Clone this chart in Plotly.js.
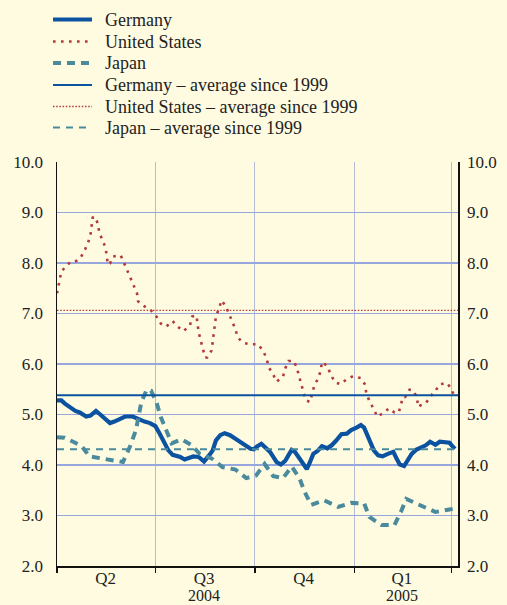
<!DOCTYPE html>
<html>
<head>
<meta charset="utf-8">
<script src="https://cdn.plot.ly/plotly-3.0.1.min.js"></script>
<style>
  html, body { margin: 0; padding: 0; background: #fffbe1; }
  #chart { width: 507px; height: 605px; }
</style>
</head>
<body>
<div id="chart"></div>
<script>
// ---- Data ----
const usDates = ['2004-04-01','2004-04-03','2004-04-05','2004-04-10','2004-04-14','2004-04-19','2004-04-23','2004-04-27','2004-04-30','2004-05-02','2004-05-03','2004-05-04','2004-05-06','2004-05-09','2004-05-10','2004-05-13','2004-05-16','2004-05-17','2004-05-18','2004-05-20','2004-05-23','2004-05-30','2004-06-02','2004-06-05','2004-06-08','2004-06-11','2004-06-14','2004-06-15','2004-06-21','2004-06-27','2004-07-02','2004-07-06','2004-07-11','2004-07-17','2004-07-21','2004-07-27','2004-08-02','2004-08-04','2004-08-08','2004-08-09','2004-08-10','2004-08-12','2004-08-14','2004-08-16','2004-08-18','2004-08-22','2004-08-23','2004-08-24','2004-08-25','2004-08-26','2004-08-29','2004-08-31','2004-09-04','2004-09-07','2004-09-10','2004-09-13','2004-09-15','2004-09-20','2004-09-27','2004-10-04','2004-10-09','2004-10-12','2004-10-14','2004-10-18','2004-10-21','2004-10-27','2004-10-29','2004-11-01','2004-11-06','2004-11-09','2004-11-11','2004-11-13','2004-11-15','2004-11-17','2004-11-21','2004-11-23','2004-11-25','2004-11-29','2004-12-01','2004-12-02','2004-12-07','2004-12-10','2004-12-14','2004-12-19','2004-12-25','2004-12-31','2005-01-07','2005-01-11','2005-01-12','2005-01-15','2005-01-19','2005-01-22','2005-01-27','2005-02-02','2005-02-07','2005-02-11','2005-02-13','2005-02-15','2005-02-17','2005-02-21','2005-02-25','2005-02-28','2005-03-01','2005-03-03','2005-03-08','2005-03-12','2005-03-17','2005-03-21','2005-03-28','2005-04-01','2005-04-04'];
const usValues = [7.40,7.66,7.83,7.95,8.03,8.04,8.11,8.27,8.42,8.57,8.73,8.90,8.92,8.77,8.61,8.45,8.30,8.13,7.97,7.99,8.13,8.15,8.00,7.86,7.70,7.54,7.40,7.24,7.14,7.06,6.94,6.80,6.74,6.85,6.75,6.65,6.77,6.94,6.96,6.79,6.63,6.46,6.30,6.13,6.13,6.27,6.44,6.61,6.79,6.95,7.10,7.26,7.15,7.00,6.84,6.69,6.53,6.42,6.39,6.39,6.25,6.09,5.93,5.79,5.65,5.75,5.91,6.06,6.06,5.91,5.75,5.58,5.43,5.28,5.25,5.42,5.58,5.73,5.89,6.04,5.96,5.80,5.64,5.60,5.70,5.76,5.72,5.59,5.42,5.26,5.11,4.96,5.02,5.12,5.04,5.04,5.20,5.35,5.35,5.49,5.47,5.31,5.15,5.18,5.22,5.35,5.47,5.60,5.62,5.49,5.33];

const deDates = ['2004-04-01','2004-04-05','2004-04-08','2004-04-14','2004-04-18','2004-04-22','2004-04-28','2004-05-02','2004-05-07','2004-05-11','2004-05-15','2004-05-20','2004-05-24','2004-05-28','2004-06-03','2004-06-10','2004-06-15','2004-06-21','2004-06-26','2004-07-01','2004-07-05','2004-07-09','2004-07-13','2004-07-17','2004-07-24','2004-07-28','2004-08-02','2004-08-05','2004-08-10','2004-08-15','2004-08-20','2004-08-23','2004-08-26','2004-08-30','2004-09-03','2004-09-08','2004-09-13','2004-09-17','2004-09-22','2004-09-27','2004-09-30','2004-10-03','2004-10-07','2004-10-10','2004-10-15','2004-10-18','2004-10-21','2004-10-25','2004-10-29','2004-11-01','2004-11-04','2004-11-07','2004-11-10','2004-11-13','2004-11-18','2004-11-21','2004-11-24','2004-11-28','2004-12-02','2004-12-07','2004-12-11','2004-12-15','2004-12-20','2004-12-25','2004-12-29','2005-01-03','2005-01-07','2005-01-10','2005-01-13','2005-01-16','2005-01-19','2005-01-23','2005-01-27','2005-02-01','2005-02-06','2005-02-09','2005-02-12','2005-02-16','2005-02-19','2005-02-23','2005-02-27','2005-03-04','2005-03-08','2005-03-12','2005-03-17','2005-03-21','2005-03-26','2005-03-30','2005-04-01','2005-04-04'];
const deValues = [5.28,5.28,5.22,5.12,5.07,5.04,4.96,4.98,5.07,5.00,4.92,4.83,4.86,4.90,4.96,4.96,4.91,4.86,4.83,4.77,4.62,4.46,4.29,4.20,4.16,4.11,4.15,4.17,4.16,4.07,4.20,4.29,4.49,4.59,4.63,4.59,4.52,4.46,4.38,4.32,4.31,4.37,4.42,4.36,4.26,4.16,4.06,4.01,4.08,4.19,4.30,4.26,4.16,4.08,3.92,4.06,4.22,4.28,4.37,4.33,4.39,4.48,4.61,4.62,4.69,4.74,4.79,4.74,4.59,4.46,4.29,4.19,4.17,4.22,4.26,4.13,4.01,3.98,4.09,4.22,4.30,4.34,4.39,4.46,4.40,4.46,4.44,4.44,4.39,4.32];

const jpDates = ['2004-04-01','2004-04-08','2004-04-16','2004-04-24','2004-05-01','2004-05-12','2004-05-23','2004-06-01','2004-06-07','2004-06-13','2004-06-18','2004-06-23','2004-06-27','2004-07-02','2004-07-06','2004-07-11','2004-07-16','2004-07-25','2004-08-03','2004-08-11','2004-08-22','2004-09-01','2004-09-13','2004-09-23','2004-10-02','2004-10-10','2004-10-18','2004-10-27','2004-11-04','2004-11-11','2004-11-16','2004-11-22','2004-12-04','2004-12-17','2004-12-29','2005-01-10','2005-01-15','2005-01-26','2005-02-07','2005-02-13','2005-02-18','2005-02-26','2005-03-07','2005-03-17','2005-03-30','2005-04-04'];
const jpValues = [4.55,4.54,4.46,4.37,4.17,4.13,4.09,4.06,4.34,4.69,5.25,5.49,5.47,5.24,4.95,4.69,4.43,4.51,4.40,4.22,4.13,3.96,3.91,3.74,3.79,4.02,3.78,3.74,3.97,3.75,3.47,3.21,3.30,3.17,3.25,3.24,2.97,2.81,2.81,3.07,3.33,3.25,3.17,3.07,3.12,3.14];

const deAverage = 5.38;
const usAverage = 7.06;
const jpAverage = 4.31;
const avgSpan = ['2004-04-01', '2005-04-07'];

const quarterMid = ['2004-05-16', '2004-08-15', '2004-11-15', '2005-02-14'];
const quarterLabels = ['Q2', 'Q3', 'Q4', 'Q1'];
const yearPositions = ['2004-08-15', '2005-02-14'];
const yearLabels = ['2004', '2005'];
const yTicks = [2, 3, 4, 5, 6, 7, 8, 9, 10];
const yTickText = ['2.0', '3.0', '4.0', '5.0', '6.0', '7.0', '8.0', '9.0', '10.0'];

const names = ['Germany', 'United States', 'Japan',
  'Germany \u2013 average since 1999',
  'United States \u2013 average since 1999',
  'Japan \u2013 average since 1999'];

// ---- Styles ----
const W = 507, H = 605;
const M = { l: 57, r: 49, t: 162, b: 39 };
const cBlue = '#0b52a0';
const cRed = '#b23a3a';
const cTeal = '#4a8a9c';
const bg = '#fffbe1';
const fam = 'Liberation Serif, Times New Roman, serif';
const font = { family: fam, size: 17, color: '#222222' };
const yearFont = { family: fam, size: 16, color: '#222222' };
const legFont = { family: fam, size: 18, color: '#222222' };

const lineStyles = [
  { color: cBlue, width: 4.2 },
  { color: cRed, width: 2.6, dash: '2.6px,5.4px' },
  { color: cTeal, width: 4, dash: '8px,6px' },
  { color: cBlue, width: 2 },
  { color: cRed, width: 1.3, dash: '1.5px,1.7px' },
  { color: cTeal, width: 2, dash: '7px,6px' }
];

const traces = [
  { x: deDates, y: deValues, name: names[0], type: 'scatter', mode: 'lines', line: lineStyles[0], showlegend: false },
  { x: usDates, y: usValues, name: names[1], type: 'scatter', mode: 'lines', line: lineStyles[1], showlegend: false },
  { x: jpDates, y: jpValues, name: names[2], type: 'scatter', mode: 'lines', line: lineStyles[2], showlegend: false },
  { x: avgSpan, y: [deAverage, deAverage], name: names[3], type: 'scatter', mode: 'lines', line: lineStyles[3], showlegend: false },
  { x: avgSpan, y: [usAverage, usAverage], name: names[4], type: 'scatter', mode: 'lines', line: lineStyles[4], showlegend: false },
  { x: avgSpan, y: [jpAverage, jpAverage], name: names[5], type: 'scatter', mode: 'lines', line: lineStyles[5], showlegend: false },
  { x: [avgSpan[0]], y: [null], yaxis: 'y2', showlegend: false, hoverinfo: 'skip', type: 'scatter', mode: 'lines' }
];

// legend drawn as shapes + annotations (pixel layout -> paper coords)
const pw = W - M.l - M.r, ph = H - M.t - M.b;
const px2x = p => (p - M.l) / pw;
const px2y = p => 1 - (p - M.t) / ph;
const legRowY = [19.5, 41.5, 63, 85, 106.5, 127.5];
const legSymX0 = 53, legSymX1 = 92, legTextX = 103;

const shapes = [];
const annotations = [];
names.forEach((n, i) => {
  shapes.push({ type: 'line', xref: 'paper', yref: 'paper',
    x0: px2x(legSymX0), x1: px2x(legSymX1), y0: px2y(legRowY[i]), y1: px2y(legRowY[i]),
    line: lineStyles[i] });
  annotations.push({ xref: 'paper', yref: 'paper', x: px2x(legTextX), y: px2y(legRowY[i]),
    xanchor: 'left', yanchor: 'middle', text: n, showarrow: false, font: legFont });
});
yearLabels.forEach((t, i) => {
  annotations.push({ xref: 'x', yref: 'paper', x: yearPositions[i], y: px2y(605),
    xanchor: 'center', yanchor: 'bottom', text: t, showarrow: false, font: yearFont, borderpad: 0 });
});

const layout = {
  width: W, height: H,
  margin: M,
  paper_bgcolor: bg, plot_bgcolor: bg,
  font: font,
  showlegend: false,
  shapes: shapes,
  annotations: annotations,
  xaxis: {
    type: 'date', range: ['2004-04-01', '2005-04-06 20:00'],
    tickmode: 'array', tickvals: quarterMid, ticktext: quarterLabels,
    ticks: '', showgrid: false, zeroline: false, ticklabelstandoff: -4,
    showline: true, linecolor: '#111111', linewidth: 2,
    minor: { dtick: 'M3', tick0: '2004-04-01', ticks: 'outside', ticklen: 5, tickcolor: '#111111',
      tickwidth: 1.5, showgrid: true, gridcolor: '#b4bcd6', gridwidth: 1.2 },
    tickfont: font
  },
  yaxis: {
    range: [2, 10], tickmode: 'array', tickvals: yTicks, ticktext: yTickText,
    showgrid: true, gridcolor: '#97a6dc', gridwidth: 1.2, zeroline: false,
    showline: true, linecolor: '#111111', linewidth: 1.5, ticks: '',
    ticklabelstandoff: 9, tickfont: font
  },
  yaxis2: {
    range: [2, 10], overlaying: 'y', side: 'right', tickmode: 'array', tickvals: yTicks, ticktext: yTickText,
    showgrid: false, zeroline: false, showline: true, linecolor: '#111111', linewidth: 1.5, ticks: '',
    ticklabelstandoff: 4, tickfont: font
  }
};

Plotly.newPlot('chart', traces, layout, { staticPlot: true, displayModeBar: false });
</script>
</body>
</html>
